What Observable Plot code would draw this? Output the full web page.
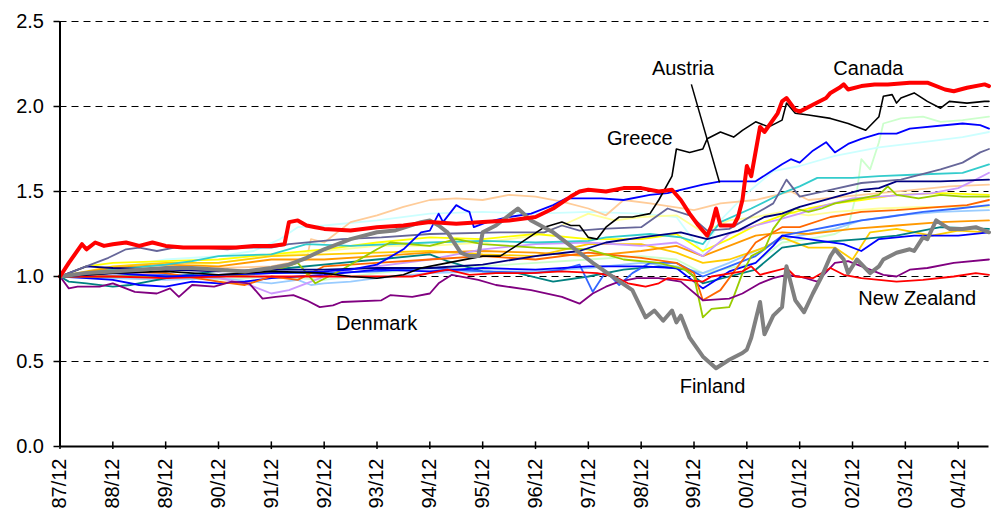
<!DOCTYPE html>
<html><head><meta charset="utf-8">
<script src="https://cdn.jsdelivr.net/npm/d3@7"></script>
<script src="https://cdn.jsdelivr.net/npm/@observablehq/plot@0.6"></script>
<style>
body{margin:0;background:#fff}
#chart{width:994px;height:518px}
</style>
</head><body><div id="chart"></div>
<script>
// x values are months after December 1987 (0 = 87/12)
const tickLabels = ["87/12","88/12","89/12","90/12","91/12","92/12","93/12","94/12","95/12","96/12","97/12","98/12","99/12","00/12","01/12","02/12","03/12","04/12"];
const yTicks = [0, 0.5, 1.0, 1.5, 2.0, 2.5];

const canada = [[0,1.00],[2,1.08],[5,1.19],[6,1.16],[8,1.20],[10,1.18],[12,1.19],[15,1.20],[18,1.18],[21,1.20],[24,1.18],[28,1.17],[32,1.17],[36,1.17],[40,1.17],[44,1.18],[48,1.18],[51,1.19],[52,1.32],[54,1.33],[56,1.30],[58,1.29],[60,1.28],[66,1.27],[72,1.29],[78,1.30],[84,1.32],[90,1.31],[96,1.32],[102,1.33],[108,1.35],[112,1.40],[116,1.47],[118,1.50],[120,1.51],[124,1.50],[128,1.52],[132,1.52],[136,1.50],[139,1.51],[141,1.45],[143,1.37],[145,1.30],[147,1.24],[148,1.30],[149,1.40],[150,1.30],[153,1.30],[154,1.35],[155,1.45],[156,1.65],[157,1.59],[159,1.88],[160,1.85],[163,1.96],[164,2.03],[165,2.05],[167,1.98],[168,1.97],[171,2.01],[174,2.05],[175,2.08],[177,2.11],[178,2.13],[179,2.10],[182,2.12],[185,2.13],[188,2.13],[193,2.14],[197,2.14],[201,2.10],[203,2.09],[206,2.11],[210,2.13],[211,2.12]];
const greece = [[0,1.00],[12,1.02],[24,1.03],[36,1.01],[48,1.03],[60,1.02],[66,1.00],[72,0.99],[78,1.01],[82,1.05],[86,1.07],[96,1.12],[100,1.12],[103,1.17],[110,1.29],[114,1.32],[116,1.30],[118,1.30],[120,1.23],[122,1.22],[124,1.29],[127,1.35],[130,1.35],[134,1.37],[136,1.45],[139,1.59],[140,1.75],[143,1.73],[146,1.75],[147,1.81],[150,1.85],[153,1.82],[155,1.86],[158,1.91],[161,1.88],[164,1.92],[165,2.02],[167,1.96],[170,1.95],[175,1.93],[179,1.90],[183,1.86],[186,1.94],[187,2.06],[189,2.07],[190,2.02],[191,2.05],[194,2.08],[197,2.03],[200,1.99],[202,2.03],[206,2.02],[210,2.03],[211,2.03]];
const austria = [[0,1.00],[12,1.02],[24,1.00],[36,1.01],[48,1.02],[60,1.03],[66,1.04],[72,1.07],[78,1.16],[82,1.26],[84,1.27],[86,1.37],[87,1.32],[90,1.42],[92,1.39],[93,1.38],[94,1.29],[97,1.32],[102,1.35],[107,1.37],[112,1.42],[115,1.46],[120,1.46],[123,1.46],[128,1.45],[134,1.48],[138,1.49],[141,1.51],[146,1.54],[150,1.56],[158,1.56],[161,1.61],[164,1.66],[166,1.69],[168,1.67],[171,1.74],[174,1.79],[176,1.73],[179,1.78],[182,1.81],[186,1.84],[190,1.84],[193,1.87],[205,1.90],[209,1.89],[211,1.87]];
const finland = [[0,1.00],[6,1.02],[12,1.03],[18,1.04],[24,1.05],[30,1.05],[36,1.04],[42,1.03],[48,1.05],[52,1.07],[56,1.11],[60,1.16],[66,1.22],[72,1.26],[76,1.27],[82,1.32],[84,1.33],[86,1.30],[88,1.26],[91,1.14],[93,1.12],[95,1.12],[96,1.26],[99,1.30],[104,1.40],[107,1.33],[112,1.26],[116,1.18],[120,1.10],[121,1.08],[126,0.99],[130,0.92],[133,0.76],[135,0.80],[137,0.74],[139,0.80],[140,0.73],[141,0.77],[143,0.64],[146,0.53],[149,0.46],[152,0.51],[155,0.55],[156,0.57],[157,0.64],[159,0.85],[160,0.66],[162,0.77],[164,0.82],[165,1.06],[166,0.96],[167,0.86],[169,0.79],[171,0.90],[173,1.00],[175,1.12],[176,1.16],[178,1.10],[179,1.02],[181,1.10],[184,1.02],[186,1.06],[187,1.10],[190,1.14],[193,1.16],[194,1.15],[196,1.23],[197,1.22],[199,1.33],[202,1.28],[205,1.28],[208,1.29],[211,1.26]];
const denmark = [[0,1.00],[2,0.93],[4,0.94],[9,0.94],[12,0.96],[17,0.91],[22,0.90],[25,0.93],[27,0.88],[30,0.95],[35,0.94],[39,0.97],[43,0.96],[46,0.87],[49,0.88],[53,0.89],[56,0.86],[59,0.82],[62,0.83],[64,0.85],[73,0.86],[75,0.89],[80,0.88],[84,0.90],[86,0.96],[89,1.01],[95,0.98],[99,0.95],[107,0.92],[114,0.88],[118,0.84],[121,0.90],[124,0.94],[127,0.97],[131,0.99],[136,0.99],[141,0.97],[146,0.86],[152,0.87],[155,0.90],[159,0.96],[162,0.99],[165,1.01],[168,1.00],[172,0.97],[176,1.08],[179,1.09],[184,1.04],[187,1.01],[190,1.00],[193,1.04],[197,1.05],[203,1.08],[211,1.10]];
const newZealand = [[0,1.00],[12,1.00],[24,0.99],[36,1.00],[48,1.00],[60,1.00],[72,1.00],[80,1.00],[88,1.04],[93,1.01],[99,1.02],[107,1.02],[114,1.03],[122,1.02],[126,1.00],[129,0.96],[131,0.95],[133,0.94],[136,0.96],[138,0.99],[146,0.97],[148,1.00],[155,1.03],[157,1.06],[159,1.01],[162,1.03],[165,1.05],[167,1.00],[171,0.99],[175,1.05],[178,1.01],[182,0.99],[190,0.97],[196,0.98],[203,1.00],[208,1.02],[211,1.01]];

const lightGreen = [[0,1.00],[12,1.02],[24,1.00],[36,0.98],[48,1.00],[60,0.98],[72,1.02],[84,1.05],[96,1.06],[108,1.08],[120,1.10],[132,1.12],[140,1.10],[146,1.02],[152,1.05],[158,1.08],[164,1.20],[170,1.22],[176,1.25],[179,1.29],[181,1.50],[182,1.69],[184,1.63],[186,1.79],[187,1.90],[191,1.93],[196,1.94],[200,1.91],[205,1.92],[211,1.94]];
const lightCyan = [[0,1.00],[12,1.05],[24,1.10],[36,1.12],[44,1.15],[50,1.22],[54,1.29],[60,1.30],[72,1.33],[84,1.37],[96,1.38],[108,1.37],[120,1.38],[132,1.37],[140,1.35],[146,1.14],[150,1.33],[156,1.49],[162,1.62],[168,1.65],[176,1.71],[186,1.76],[196,1.79],[205,1.82],[211,1.85]];
const peach = [[0,1.00],[12,1.03],[24,1.04],[36,1.05],[48,1.06],[56,1.10],[57,1.22],[60,1.20],[66,1.32],[72,1.36],[78,1.41],[84,1.45],[90,1.46],[96,1.45],[102,1.48],[108,1.47],[114,1.44],[120,1.40],[124,1.36],[128,1.45],[134,1.43],[144,1.39],[150,1.43],[158,1.45],[166,1.50],[170,1.45],[178,1.47],[186,1.49],[194,1.51],[202,1.53],[211,1.54]];
const slate = [[0,1.00],[4,1.04],[7,1.07],[11,1.11],[15,1.16],[18,1.17],[22,1.15],[26,1.17],[32,1.17],[38,1.16],[42,1.17],[48,1.17],[52,1.19],[64,1.22],[73,1.23],[84,1.25],[100,1.26],[110,1.26],[114,1.30],[118,1.27],[123,1.28],[132,1.29],[138,1.40],[143,1.36],[147,1.27],[152,1.28],[162,1.43],[165,1.57],[168,1.47],[175,1.51],[182,1.55],[191,1.57],[200,1.63],[205,1.67],[209,1.73],[211,1.75]];
const turquoise = [[0,1.00],[12,1.04],[24,1.07],[30,1.09],[36,1.12],[48,1.13],[56,1.19],[66,1.18],[84,1.20],[96,1.21],[108,1.20],[120,1.21],[124,1.23],[134,1.25],[141,1.23],[146,1.19],[150,1.32],[157,1.40],[164,1.49],[168,1.53],[172,1.58],[180,1.58],[186,1.59],[195,1.60],[205,1.61],[211,1.66]];
const navy = [[0,1.00],[6,1.06],[12,1.05],[24,1.04],[36,1.03],[48,1.04],[60,1.04],[72,1.05],[84,1.05],[96,1.07],[108,1.12],[118,1.15],[124,1.20],[132,1.23],[141,1.26],[147,1.22],[154,1.27],[160,1.35],[164,1.37],[168,1.41],[175,1.46],[182,1.51],[186,1.52],[190,1.56],[200,1.56],[211,1.57]];
const lavender = [[0,1.00],[12,1.02],[24,1.01],[36,0.99],[42,0.96],[48,0.90],[52,0.92],[56,0.96],[60,1.00],[66,1.04],[72,1.06],[84,1.10],[96,1.16],[108,1.19],[120,1.20],[132,1.18],[140,1.20],[146,1.12],[152,1.25],[158,1.30],[164,1.34],[168,1.37],[174,1.42],[180,1.46],[186,1.47],[192,1.48],[198,1.49],[204,1.52],[208,1.57],[211,1.61]];
const yellowGreen = [[0,1.00],[12,1.00],[24,1.00],[36,1.00],[42,1.01],[48,1.03],[54,1.08],[58,0.96],[64,1.04],[72,1.16],[75,1.20],[84,1.18],[90,1.22],[96,1.19],[108,1.17],[120,1.16],[128,1.10],[136,1.08],[142,1.04],[144,1.00],[146,0.76],[148,0.81],[152,0.82],[153,0.88],[155,1.02],[157,1.12],[160,1.16],[162,1.28],[164,1.35],[167,1.40],[170,1.38],[173,1.40],[176,1.43],[182,1.46],[186,1.48],[188,1.53],[190,1.48],[195,1.46],[200,1.48],[205,1.47],[211,1.47]];
const yellow = [[0,1.00],[6,1.06],[12,1.08],[24,1.09],[36,1.10],[48,1.13],[60,1.16],[72,1.20],[84,1.23],[96,1.22],[108,1.25],[120,1.22],[132,1.22],[140,1.25],[146,1.15],[152,1.22],[158,1.30],[164,1.36],[170,1.40],[176,1.43],[182,1.45],[190,1.48],[200,1.49],[211,1.48]];
const lightYellow = [[0,1.00],[12,1.04],[24,1.05],[36,1.08],[48,1.12],[60,1.15],[72,1.18],[84,1.18],[96,1.20],[108,1.24],[114,1.30],[120,1.37],[126,1.33],[132,1.35],[140,1.36],[146,1.26],[152,1.33],[158,1.35],[164,1.38],[170,1.36],[176,1.38],[186,1.40],[196,1.41],[211,1.41]];
const orange = [[0,1.00],[12,1.03],[24,1.02],[36,0.97],[42,0.95],[48,1.00],[54,0.98],[60,1.06],[72,1.08],[84,1.10],[96,1.12],[108,1.10],[120,1.14],[132,1.11],[140,1.08],[144,1.02],[146,0.86],[150,0.92],[154,1.06],[158,1.20],[164,1.29],[168,1.29],[175,1.35],[182,1.38],[190,1.39],[200,1.41],[206,1.42],[211,1.45]];
const lightOrange = [[0,1.00],[12,1.05],[24,1.07],[36,1.06],[48,1.10],[60,1.10],[72,1.12],[84,1.14],[96,1.15],[108,1.14],[120,1.12],[132,1.15],[140,1.18],[146,1.12],[152,1.18],[158,1.24],[164,1.26],[170,1.25],[180,1.28],[190,1.30],[200,1.32],[211,1.33]];
const gold = [[0,1.00],[12,1.06],[24,1.08],[36,1.08],[48,1.12],[60,1.13],[72,1.14],[84,1.15],[96,1.13],[108,1.12],[120,1.19],[132,1.19],[140,1.14],[146,1.08],[152,1.10],[160,1.17],[164,1.23],[170,1.17],[176,1.17],[180,1.10],[184,1.26],[190,1.28],[198,1.24],[204,1.27],[211,1.26]];
const lightBlue = [[0,1.00],[12,0.99],[24,0.98],[36,0.99],[48,0.96],[54,0.98],[57,0.95],[60,0.96],[66,0.97],[72,0.99],[84,1.02],[96,1.03],[108,1.03],[120,1.05],[132,1.08],[140,1.06],[146,1.02],[152,1.08],[158,1.15],[164,1.22],[170,1.25],[176,1.28],[182,1.33],[190,1.36],[200,1.38],[211,1.39]];
const mediumBlue = [[0,1.00],[12,1.00],[24,1.01],[36,1.00],[48,1.02],[60,1.02],[72,1.03],[84,1.05],[96,1.03],[108,1.02],[114,1.04],[118,1.07],[121,0.91],[124,1.03],[127,0.95],[130,1.02],[134,1.08],[140,1.08],[146,1.00],[152,1.06],[158,1.12],[164,1.24],[170,1.27],[176,1.30],[182,1.33],[188,1.35],[196,1.38],[204,1.40],[211,1.42]];
const blue2 = [[0,1.00],[6,0.99],[12,0.98],[18,0.95],[24,0.94],[30,0.97],[36,0.96],[42,0.97],[48,0.99],[60,1.01],[72,1.04],[84,1.03],[96,1.05],[108,1.04],[120,1.06],[132,1.06],[140,1.05],[146,0.93],[152,1.03],[158,1.08],[162,1.18],[164,1.24],[170,1.22],[178,1.19],[182,1.15],[186,1.22],[194,1.24],[204,1.24],[211,1.26]];
const darkTeal = [[0,1.00],[2,0.97],[6,0.96],[12,0.94],[16,0.95],[20,0.97],[26,1.00],[32,1.02],[38,1.04],[42,1.03],[52,1.05],[64,1.08],[72,1.10],[84,1.13],[88,1.09],[96,1.03],[104,1.02],[112,0.97],[120,1.00],[128,1.04],[136,1.06],[142,1.04],[146,0.96],[152,1.00],[158,1.04],[164,1.17],[172,1.20],[182,1.22],[190,1.24],[200,1.29],[211,1.28]];

const labelNames = ["Canada","Austria","Greece","Denmark","Finland","New Zealand"];
const labelX = [183.6, 141.5, 131.7, 71.9, 148.2, 194.7];
const labelY = [2.225, 2.225, 1.81, 0.725, 0.355, 0.87];
const leader = [{x1:143.4, y1:2.13, x2:149.8, y2:1.553}];

const series = [
  {data: lightGreen, color: "#CCFFCC", w: 1.8},
  {data: lightCyan, color: "#CCFFFF", w: 1.8},
  {data: peach, color: "#FFCC99", w: 1.8},
  {data: lightYellow, color: "#FFFF99", w: 1.8},
  {data: lightBlue, color: "#99CCFF", w: 1.8},
  {data: yellow, color: "#FFFF00", w: 1.8},
  {data: gold, color: "#FFCC00", w: 1.8},
  {data: lightOrange, color: "#FF9900", w: 1.8},
  {data: lavender, color: "#CC99FF", w: 1.8},
  {data: darkTeal, color: "#008080", w: 1.8},
  {data: turquoise, color: "#33CCCC", w: 1.8},
  {data: mediumBlue, color: "#3366FF", w: 1.8},
  {data: blue2, color: "#0000FF", w: 1.8},
  {data: orange, color: "#FF6600", w: 1.8},
  {data: yellowGreen, color: "#99CC00", w: 1.8},
  {data: navy, color: "#000080", w: 1.8},
  {data: slate, color: "#666699", w: 1.8},
  {data: denmark, color: "#800080", w: 1.8},
  {data: newZealand, color: "#FF0000", w: 1.8},
  {data: austria, color: "#0000FF", w: 1.8},
  {data: greece, color: "#000000", w: 1.6},
  {data: finland, color: "#808080", w: 4},
  {data: canada, color: "#FF0000", w: 4}
];

const tickM = tickLabels.map((_, i) => i * 12);
const labels = labelNames.map((t, i) => ({t, x: labelX[i], y: labelY[i]}));

const chart = Plot.plot({
  width: 994, height: 518,
  marginLeft: 59.5, marginRight: 5.5, marginTop: 21, marginBottom: 72,
  style: {fontFamily: "Arial, 'Liberation Sans', sans-serif", fontSize: "20px", color: "#000", background: "#fff", overflow: "visible"},
  x: {domain: [0, 211]},
  y: {domain: [0, 2.5]},
  marks: [
    Plot.ruleY(yTicks.filter(d => d > 0), {stroke: "#000", strokeWidth: 1, strokeDasharray: "7,5"}),
    ...series.map(s => Plot.line(s.data, {x: d => d[0], y: d => d[1], stroke: s.color, strokeWidth: s.w, strokeLinejoin: "round", strokeLinecap: "round"})),
    Plot.link(leader, {x1: "x1", y1: "y1", x2: "x2", y2: "y2", stroke: "#000", strokeWidth: 1.5}),
    Plot.text(labels, {x: "x", y: "y", text: "t", fontSize: 20, fill: "#000"}),
    Plot.ruleX([0], {stroke: "#000", strokeWidth: 2}),
    Plot.ruleY([0], {stroke: "#000", strokeWidth: 2}),
    Plot.ruleX(tickM, {x: d => d, y1: -0.018, y2: 0.027, stroke: "#000", strokeWidth: 1.5}),
    Plot.axisX(tickM, {tickFormat: m => tickLabels[m / 12], tickRotate: -90, tickSize: 0, tickPadding: 12, fontSize: 20}),
    Plot.axisY(yTicks, {tickFormat: d => d.toFixed(1), tickSize: 6, tickPadding: 10, fontSize: 20, strokeWidth: 1.5})
  ]
});
document.getElementById("chart").appendChild(chart);
</script>
</body></html>
